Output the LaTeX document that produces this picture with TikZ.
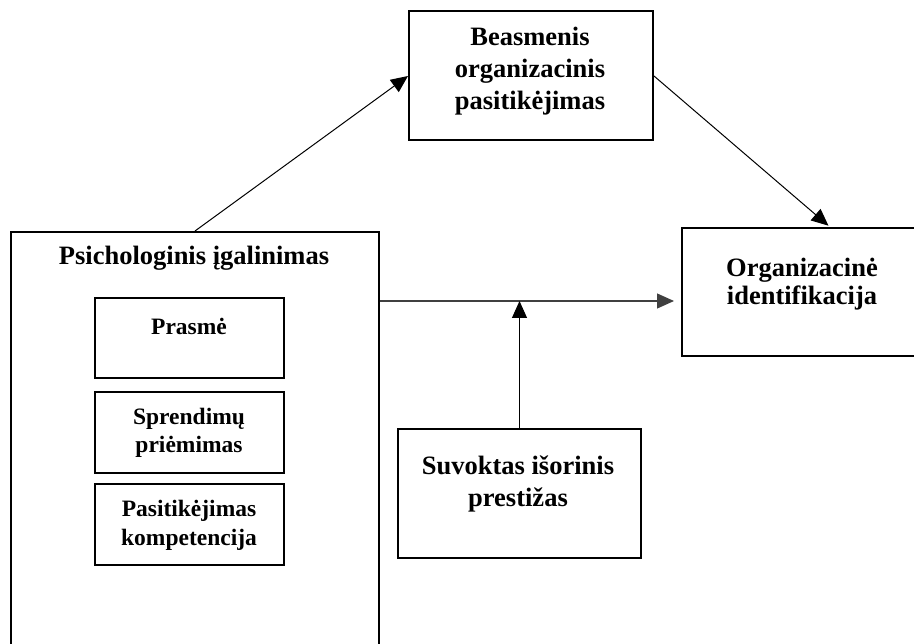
\documentclass[tikz,border=0pt]{standalone}
\usepackage{fontspec}
\setmainfont{Liberation Serif}
\usetikzlibrary{arrows.meta,calc}
\begin{document}
\begin{tikzpicture}[x=1pt,y=-1pt,
  boxnode/.style={draw,line width=2pt,rectangle,inner sep=0pt,anchor=north west},
  bigtxt/.style={anchor=base,inner sep=0pt,font=\fontsize{26.5}{30}\selectfont\bfseries},
  smalltxt/.style={anchor=base,inner sep=0pt,font=\fontsize{23.5}{28}\selectfont\bfseries},
  conn/.style={line width=1pt,-{Triangle[length=17pt,width=15pt]}}]
\useasboundingbox (0,0) rectangle (914,644);
% boxes
\node[boxnode,minimum width=244pt,minimum height=129pt] (tb) at (408,10) {};
\node[boxnode,minimum width=368pt,minimum height=470pt] (psy) at (10,231) {};
\node[boxnode,minimum width=189pt,minimum height=80pt] (pr) at (94,297) {};
\node[boxnode,minimum width=189pt,minimum height=81pt] (sp) at (94,391) {};
\node[boxnode,minimum width=189pt,minimum height=81pt] (pk) at (94,483) {};
\node[boxnode,minimum width=242pt,minimum height=128pt] (org) at (681,227) {};
\node[boxnode,minimum width=243pt,minimum height=129pt] (sep) at (397,428) {};
% texts
\node[bigtxt] (tb1) at (530,46) {Beasmenis};
\node[bigtxt] (tb2) at (530,78) {organizacinis};
\node[bigtxt] (tb3) at (530,110) {pasitikėjimas};
\node[bigtxt] (psyt) at (194,265) {Psichologinis įgalinimas};
\node[smalltxt] (prt) at (189,335) {Prasmė};
\node[smalltxt] (spt1) at (189,425) {Sprendimų};
\node[smalltxt] (spt2) at (189,453) {priėmimas};
\node[smalltxt] (pkt1) at (189,517) {Pasitikėjimas};
\node[smalltxt] (pkt2) at (189,545) {kompetencija};
\node[bigtxt] (orgt1) at (802,277) {Organizacinė};
\node[bigtxt] (orgt2) at (802,305) {identifikacija};
\node[bigtxt] (sept1) at (518,475) {Suvoktas išorinis};
\node[bigtxt] (sept2) at (518,507) {prestižas};
% connectors
\draw[conn] ($(psy.north west)+(185,0)$) -- ($(tb.north west)+(0,66)$);
\draw[conn,shorten >=2pt] ($(tb.north east)+(0,66)$) -- ($(org.north west)+(149,0)$);
\coordinate (hstart) at ($(psy.north east)+(0,70)$);
\draw[conn,line width=1.2pt,black!75,shorten >=7pt] (hstart) -- (hstart -| org.west);
\draw[conn] (sep.north) -- (sep.north |- hstart);
\end{tikzpicture}
\end{document}
